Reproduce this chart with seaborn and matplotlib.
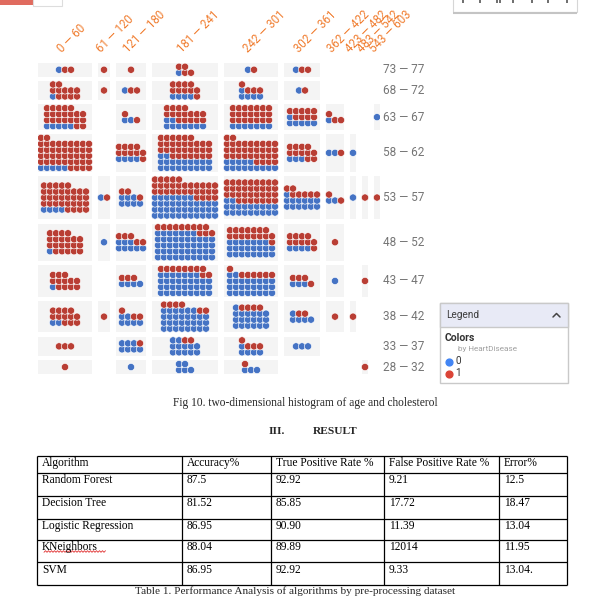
import numpy as np
import pandas as pd
import matplotlib
matplotlib.use("Agg")
import matplotlib.pyplot as plt
import matplotlib.transforms as mtransforms
from matplotlib.patches import Rectangle
import seaborn as sns

# ---------------------------------------------------------------------------
# Data
# ---------------------------------------------------------------------------
age_bins = ["73 — 77", "68 — 72", "63 — 67", "58 — 62", "53 — 57",
            "48 — 52", "43 — 47", "38 — 42", "33 — 37", "28 — 32"]
chol_bins = ["0 — 60", "61 — 120", "121 — 180", "181 — 241", "242 — 301",
             "302 — 361", "362 — 422", "423 — 482", "483 — 542", "543 — 603"]

# HeartDisease = 0 (rows = age bins, cols = cholesterol bins)
no_disease = [
    [1, 0, 0, 1, 1, 1, 0, 0, 0, 0],
    [1, 0, 1, 4, 5, 1, 0, 0, 0, 0],
    [5, 0, 2, 9, 7, 6, 1, 0, 0, 1],
    [5, 0, 4, 20, 14, 3, 2, 1, 0, 0],
    [4, 1, 7, 40, 20, 13, 2, 1, 0, 0],
    [1, 1, 8, 47, 23, 4, 0, 0, 0, 0],
    [1, 0, 4, 34, 26, 3, 1, 0, 0, 0],
    [2, 0, 6, 30, 19, 5, 0, 0, 0, 0],
    [0, 0, 7, 12, 5, 3, 0, 0, 0, 0],
    [0, 0, 1, 5, 3, 0, 0, 0, 0, 0],
]
# HeartDisease = 1
disease = [
    [2, 1, 1, 4, 1, 2, 0, 0, 0, 0],
    [11, 1, 2, 10, 4, 1, 0, 0, 0, 0],
    [21, 0, 2, 16, 21, 9, 3, 0, 0, 0],
    [42, 0, 10, 31, 33, 11, 1, 0, 0, 0],
    [33, 1, 3, 31, 34, 7, 2, 0, 1, 1],
    [21, 0, 5, 12, 16, 10, 1, 0, 0, 0],
    [12, 0, 3, 10, 7, 4, 0, 0, 1, 0],
    [12, 1, 3, 6, 4, 2, 1, 1, 0, 0],
    [3, 0, 1, 2, 4, 0, 0, 0, 0, 0],
    [1, 0, 0, 0, 1, 0, 0, 0, 1, 0],
]
classes = [0, 1]

table_header = ["Algorithm", "Accuracy%", "True Positive Rate %",
                "False Positive Rate %", "Error%"]
algorithms = ["Random Forest", "Decision Tree", "Logistic Regression", "KNeighbors", "SVM"]
accuracy = ["87.5", "81.52", "86.95", "88.04", "86.95"]
tpr = ["92.92", "85.85", "90.90", "89.89", "92.92"]
fpr = ["9.21", "17.72", "11.39", "12014", "9.33"]
error = ["12.5", "18.47", "13.04", "11.95", "13.04."]

# colors
dot_colors = {0: "#4573c4", 1: "#b93e34"}
legend_colors = {0: "#4285f4", 1: "#db4437"}
ORANGE = "#f07c2e"
GREY = "#757575"
SERIF = "Liberation Serif"
SANS = "Roboto"

sns.set_style("white")
plt.rcParams["font.family"] = ["DejaVu Sans"]

# ---------------------------------------------------------------------------
# Waffle layout: each cell is filled bottom-up, blue first then red
# ---------------------------------------------------------------------------
blue = np.array(no_disease)
red = np.array(disease)
total = blue + red


def n_cols(n):
    return int(min(n, np.ceil(np.sqrt(1.5 * n))))


ncols = np.vectorize(n_cols)(total)
nrows = np.where(total > 0, np.ceil(total / np.maximum(ncols, 1)), 0)
col_w = ncols.max(axis=0)
row_h = nrows.max(axis=1) + 0.25
col_x = np.concatenate([[0], np.cumsum(col_w + 1.0)[:-1]])
row_y = np.concatenate([[0], np.cumsum(row_h + 0.7)[:-1]])
W = col_x[-1] + col_w[-1]
H = row_y[-1] + row_h[-1]

records = []
for i in range(len(age_bins)):
    for j in range(len(chol_bins)):
        n = total[i, j]
        if n == 0:
            continue
        k, m = ncols[i, j], nrows[i, j]
        x0 = col_x[j] + (col_w[j] - k) / 2
        y0 = row_y[i] + (row_h[i] - m) / 2
        for d in range(n):
            r, c = divmod(d, k)
            records.append({"x": x0 + c + 0.5, "y": y0 + (m - 1 - r) + 0.5,
                            "HeartDisease": classes[0] if d < blue[i, j] else classes[1]})
dots = pd.DataFrame(records)

# ---------------------------------------------------------------------------
# Figure
# ---------------------------------------------------------------------------
FW, FH, PX = 611, 607, 6.0
fig = plt.figure(figsize=(FW / 100, FH / 100), dpi=100)
fig.patch.set_facecolor("white")

# overlay for page elements (pixel coordinates)
ov = fig.add_axes([0, 0, 1, 1], zorder=0)
ov.set_xlim(0, FW)
ov.set_ylim(FH, 0)
ov.axis("off")

ax = fig.add_axes([38 / FW, 1 - (63 + H * PX) / FH, W * PX / FW, H * PX / FH], zorder=2)
ax.patch.set_alpha(0)

for i in range(len(age_bins)):
    for j in range(len(chol_bins)):
        if total[i, j] > 0:
            ax.add_patch(Rectangle((col_x[j], row_y[i]), col_w[j], row_h[i],
                                   facecolor="#f4f4f4", edgecolor="none", zorder=1))

sns.scatterplot(data=dots, x="x", y="y", hue="HeartDisease", palette=dot_colors,
                s=27, edgecolor="white", linewidth=0.45, legend=False, ax=ax, zorder=3)

ax.set_xlim(0, W)
ax.set_ylim(H, 0)
ax.set_xlabel("")
ax.set_ylabel("")
for sp in ax.spines.values():
    sp.set_visible(False)

ax.xaxis.tick_top()
ax.set_xticks(col_x + col_w / 2)
ax.set_xticklabels(chol_bins, rotation=45, ha="left", va="baseline",
                   rotation_mode="anchor", color=ORANGE, fontsize=8.3, family=SANS)
ax.tick_params(axis="x", length=0, pad=7.2)
offset = mtransforms.ScaledTranslation(-3 / 100, 0, fig.dpi_scale_trans)
for lbl in ax.get_xticklabels():
    lbl.set_transform(lbl.get_transform() + offset)

ax.yaxis.tick_right()
ax.set_yticks(row_y + row_h / 2)
ax.set_yticklabels(age_bins, color=GREY, fontsize=8.5, family=SANS, va="center")
ax.tick_params(axis="y", length=0, pad=2.2)

# ---------------------------------------------------------------------------
# Page decorations (cut-off widgets at the top)
# ---------------------------------------------------------------------------
ov.add_patch(Rectangle((0, -4), 33, 9, facecolor="#e06b5f", edgecolor="none"))
ov.add_patch(Rectangle((33, -4), 29, 10, facecolor="white", edgecolor="#dddddd", lw=0.8))
ov.add_patch(Rectangle((453, -4), 124, 16, facecolor="white", edgecolor="#d6d6d6", lw=0.8))
ov.hlines(12.5, 453, 577, color="#c4c4c4", lw=1.5)
ov.vlines([463, 480, 497, 500, 513, 532, 548, 567], 0, 3, color="#555555", lw=1.2)

# ---------------------------------------------------------------------------
# Legend panel
# ---------------------------------------------------------------------------
ov.add_patch(Rectangle((440, 303), 128, 80, facecolor="white", edgecolor="#c9c9c9", lw=1))
ov.add_patch(Rectangle((440, 303), 128, 24, facecolor="#e8eaf6", edgecolor="#c9c9c9", lw=1))
ov.text(446, 315.5, "Legend", fontsize=7.2, color="#3c3c3c", va="center", family=SANS)
ov.plot([553, 556.5, 560], [317, 313.5, 317], color="#444444", lw=1.1)
ov.text(445, 338, "Colors", fontsize=7.5, color="#333333", va="center",
        fontweight="bold", family=SANS)
ov.text(458, 349, "by HeartDisease", fontsize=5.9, color="#a0a0a0", va="center", family=SANS)
for k, cls in enumerate(classes):
    yy = 362 + 12 * k
    ov.scatter([449], [yy], s=24, color=legend_colors[cls], zorder=3)
    ov.text(455, yy - 0.5, str(cls), fontsize=7.2, color="#333333", va="center", family=SANS)

# ---------------------------------------------------------------------------
# Captions and results table
# ---------------------------------------------------------------------------
ov.text(305, 403, "Fig 10. two-dimensional histogram of age and cholesterol",
        ha="center", va="center", fontsize=8.3, family=SERIF)
ov.text(269, 432, "III.", va="center", fontsize=8.2, fontweight="bold", family=SERIF)
ov.text(313, 432, "RESULT", va="center", fontsize=8.2, fontweight="bold", family=SERIF)

col_lines = [37, 182, 271, 384, 499, 567]
row_lines = [456, 472.7, 495.7, 518.7, 540, 562.3, 585]
ov.hlines(row_lines, col_lines[0], col_lines[-1], color="black", lw=0.9)
ov.vlines(col_lines, row_lines[0], row_lines[-1], color="black", lw=0.9)

rows = [table_header] + [list(r) for r in zip(algorithms, accuracy, tpr, fpr, error)]
for r, row in enumerate(rows):
    for c, val in enumerate(row):
        ov.text(col_lines[c] + 5, row_lines[r] + 7.3, val, va="center",
                fontsize=8.3, family=SERIF, color="black")

# spell-check squiggle under "KNeighbors"
sq_x = np.arange(44, 106, 1.5)
sq_y = 551.5 + 0.8 * (-1) ** np.arange(len(sq_x))
ov.plot(sq_x, sq_y, color="#e03030", lw=0.6)

ov.text(295, 591, "Table 1. Performance Analysis of algorithms by pre-processing dataset",
        ha="center", va="center", fontsize=8.1, family=SERIF)

fig.savefig("out.png", dpi=100)
